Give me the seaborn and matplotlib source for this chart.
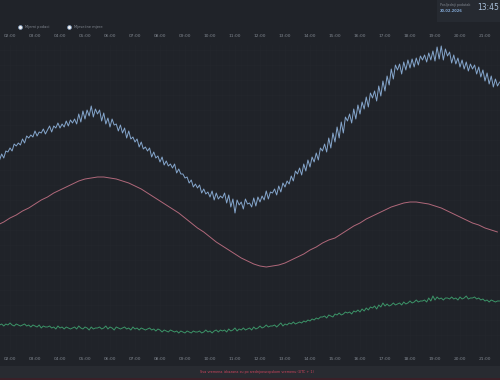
"""
Dark dashboard line chart: measured data over one day (5-minute steps).
"""

import matplotlib.dates as mdates
import matplotlib.pyplot as plt
import numpy as np
import pandas as pd
import seaborn as sns
from matplotlib.lines import Line2D

# Measured series (5-minute steps starting 01:35), relative units
measured = [
    190, 196, 192, 199, 198, 202, 199, 206, 204, 207, 205, 211,
    207, 214, 212, 215, 213, 219, 214, 218, 217, 221, 216, 220,
    224, 218, 224, 222, 227, 222, 226, 223, 229, 224, 230, 227,
    231, 226, 236, 228, 239, 231, 240, 234, 244, 233, 241, 236,
    240, 229, 237, 226, 232, 223, 231, 225, 226, 219, 225, 217,
    222, 212, 219, 211, 213, 208, 211, 203, 208, 201, 203, 199,
    202, 193, 198, 192, 194, 188, 193, 185, 189, 184, 186, 182,
    186, 177, 181, 176, 176, 172, 173, 167, 170, 163, 166, 162,
    165, 157, 161, 156, 158, 153, 159, 150, 157, 151, 154, 152,
    157, 147, 155, 143, 151, 137, 150, 145, 148, 141, 151, 146,
    147, 143, 152, 144, 153, 148, 154, 150, 159, 151, 158, 157,
    161, 155, 164, 158, 167, 163, 169, 166, 174, 169, 179, 176,
    182, 175, 186, 179, 190, 183, 193, 188, 197, 190, 202, 199,
    206, 198, 212, 202, 217, 208, 223, 212, 228, 217, 233, 229,
    236, 227, 241, 231, 245, 236, 248, 241, 253, 243, 257, 252,
    259, 249, 264, 254, 269, 259, 274, 265, 281, 271, 285, 280,
    286, 276, 288, 280, 290, 282, 291, 283, 292, 285, 294, 290,
    295, 288, 297, 290, 299, 289, 303, 291, 304, 290, 301, 294,
    298, 287, 295, 286, 292, 283, 290, 281, 288, 279, 286, 281,
    285, 276, 283, 273, 280, 269, 277, 266, 274, 263, 271, 264,
    268,
]

# Lower series (5-minute steps starting 01:35)
lower = [
    25, 26, 24, 26, 25, 27, 25, 24, 26, 25, 24, 25,
    26, 24, 25, 23, 25, 24, 23, 25, 22, 24, 23, 23,
    24, 22, 23, 21, 24, 22, 23, 21, 23, 22, 21, 22,
    23, 21, 24, 22, 21, 23, 22, 20, 23, 21, 22, 22,
    23, 21, 22, 24, 21, 23, 22, 20, 23, 22, 21, 22,
    23, 21, 22, 20, 23, 21, 22, 20, 22, 21, 20, 21,
    22, 20, 21, 19, 21, 20, 18, 20, 19, 18, 20, 19,
    18, 19, 17, 19, 18, 17, 19, 18, 17, 19, 18, 18,
    19, 17, 18, 20, 18, 19, 17, 19, 20, 18, 20, 19,
    20, 18, 21, 19, 20, 22, 19, 21, 20, 22, 20, 21,
    22, 20, 23, 21, 22, 24, 22, 23, 25, 23, 24, 24,
    25, 23, 25, 27, 24, 26, 25, 27, 26, 28, 26, 27,
    28, 27, 29, 28, 30, 29, 31, 30, 32, 31, 33, 33,
    34, 32, 35, 34, 33, 36, 35, 37, 35, 36, 38, 37,
    38, 36, 39, 38, 40, 38, 41, 39, 42, 40, 43, 42,
    44, 41, 45, 43, 47, 44, 46, 44, 45, 47, 45, 46,
    47, 45, 48, 46, 47, 49, 47, 48, 50, 48, 49, 49,
    50, 48, 52, 49, 54, 50, 53, 51, 52, 50, 52, 52,
    51, 53, 51, 52, 50, 53, 51, 52, 54, 51, 52, 52,
    53, 51, 52, 50, 51, 49, 50, 48, 50, 49, 48, 49,
    49,
]

# Smooth reference curve (15-minute steps starting 01:30)
reference = [
    125, 128, 132, 135, 139, 142, 146, 150, 153, 157, 160, 163,
    166, 169, 171, 172, 173, 173, 172, 171, 169, 167, 164, 161,
    157, 153, 149, 145, 141, 137, 132, 127, 122, 118, 113, 108,
    104, 100, 96, 92, 89, 86, 84, 83, 84, 85, 87, 90,
    93, 96, 100, 103, 107, 110, 112, 116, 120, 124, 127, 131,
    134, 137, 140, 143, 145, 147, 148, 148, 147, 146, 144, 142,
    139, 136, 133, 130, 127, 125, 122, 120, 118,
]

legend_labels = ["Mjerni podaci", "Mjesečne mjere"]
last_label = "Posljednji podatak"
last_date = "20.02.2026"
last_time = "13:45"
footer = "Sva vremena iskazana su po srednjoeuropskom vremenu (UTC + 1)"

BG = "#202329"
STRIP = "#282b31"
TXT = "#80868f"

t5 = pd.date_range("2026-02-20 01:35", periods=len(measured), freq="5min")
t15 = pd.date_range("2026-02-20 01:30", periods=len(reference), freq="15min")
df5 = pd.DataFrame({"time": t5, "measured": measured, "lower": lower})
df15 = pd.DataFrame({"time": t15, "reference": reference})

sns.set_theme(style="dark")
plt.rcParams["font.family"] = ["DejaVu Sans"]

fig = plt.figure(figsize=(5, 3.8), dpi=100, facecolor=BG)
ax = fig.add_axes([0, 30 / 380, 1, 305 / 380])
ax.set_facecolor(BG)

sns.lineplot(data=df5, x="time", y="measured", ax=ax, color="#85a6cc", linewidth=0.7)
sns.lineplot(data=df15, x="time", y="reference", ax=ax, color="#b0687a", linewidth=0.7)
sns.lineplot(data=df5, x="time", y="lower", ax=ax, color="#3c9468", linewidth=0.7)

ax.set_xlim(pd.Timestamp("2026-02-20 01:36"), pd.Timestamp("2026-02-20 21:36"))
ax.set_ylim(0, 305)
ax.xaxis.set_major_locator(mdates.HourLocator())
ax.xaxis.set_major_formatter(mdates.DateFormatter("%H:%M"))
ax.xaxis.set_minor_locator(mdates.MinuteLocator(byminute=[15, 30, 45]))
ax.set_yticks(np.arange(0, 306, 15))
ax.set_yticklabels([])
ax.tick_params(axis="x", labeltop=True, labelbottom=True, length=0, pad=5,
               labelsize=3.2, colors=TXT)
ax.tick_params(axis="y", length=0)
ax.set_xlabel("")
ax.set_ylabel("")
ax.grid(True, which="major", color="#24272d", linewidth=0.5)
ax.grid(True, which="minor", axis="x", color="#23262c", linewidth=0.4)
for s in ax.spines.values():
    s.set_visible(False)

# legend dots
for xd, lab in zip([20, 69], legend_labels):
    fig.add_artist(Line2D([xd / 500], [1 - 27 / 380], marker="o", markersize=2.8,
                          markerfacecolor="#f0f0f0", markeredgecolor="#7f9bbf",
                          markeredgewidth=0.5, linestyle="none"))
    fig.text((xd + 5) / 500, 1 - 27 / 380, lab, fontsize=2.6, color=TXT,
             va="center", ha="left")

# last-data box top right
fig.patches.append(plt.Rectangle((437 / 500, 1 - 22 / 380), 63 / 500, 22 / 380,
                                 transform=fig.transFigure, facecolor="#262a31",
                                 edgecolor="none", zorder=0))
fig.text(440 / 500, 1 - 5 / 380, last_label, fontsize=2.4, color=TXT, va="center")
fig.text(440 / 500, 1 - 11 / 380, last_date, fontsize=2.6, color="#7fa4cf",
         va="center", fontweight="bold")
fig.text(499 / 500, 1 - 8 / 380, last_time, fontsize=5.5, color="#a9c0da",
         va="center", ha="right")

# footer strip
fig.patches.append(plt.Rectangle((0, 0), 1, 14 / 380, transform=fig.transFigure,
                                 facecolor=STRIP, edgecolor="none", zorder=0))
fig.patches.append(plt.Rectangle((0, 0), 1, 2 / 380, transform=fig.transFigure,
                                 facecolor="#3a2028", edgecolor="none", zorder=0))
fig.text(0.513, 8 / 380, footer, fontsize=2.4, color="#d0455e", ha="center",
         va="center")

fig.savefig("out.png", dpi=100, facecolor=BG)
